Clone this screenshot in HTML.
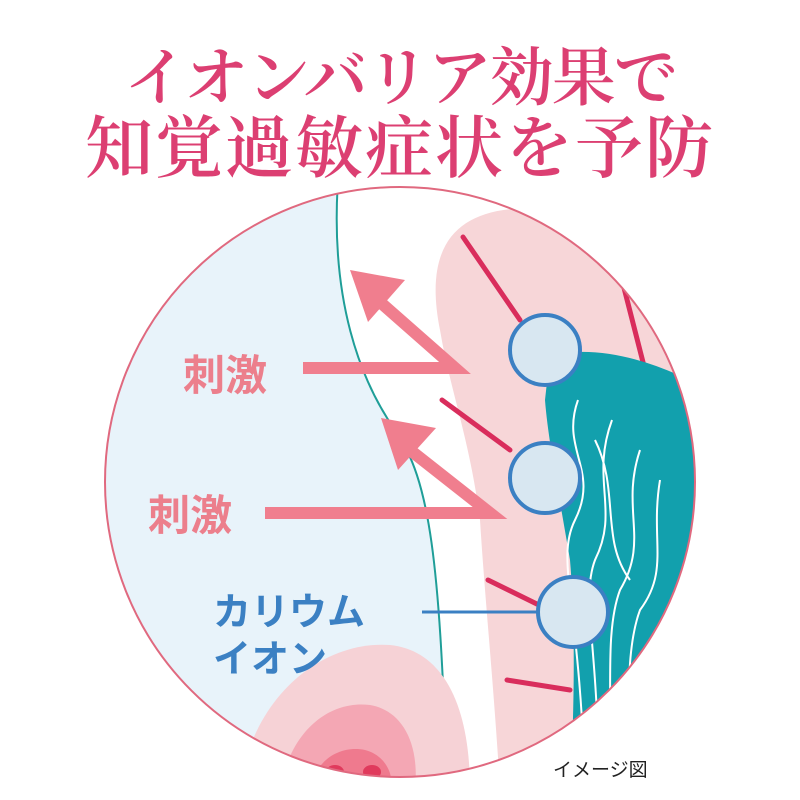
<!DOCTYPE html>
<html><head><meta charset="utf-8"><style>
html,body{margin:0;padding:0;background:#fff;width:800px;height:800px;overflow:hidden}
svg{display:block}
</style></head><body>
<svg width="800" height="800" viewBox="0 0 800 800" xmlns="http://www.w3.org/2000/svg">
<defs><clipPath id="c"><circle cx="400" cy="482" r="295"/></clipPath></defs>
<text x="400" y="100" text-anchor="middle" font-family="'Noto Serif CJK SC','Noto Sans CJK JP',serif" font-size="64" font-weight="600" fill="#dc3f72" letter-spacing="-2">イオンバリア効果で</text>
<text x="400" y="172" text-anchor="middle" font-family="'Noto Serif CJK SC','Noto Sans CJK JP',serif" font-size="68" font-weight="600" fill="#dc3f72" letter-spacing="2">知覚過敏症状を予防</text>
<g clip-path="url(#c)">
<rect x="100" y="180" width="600" height="610" fill="#e8f3fa"/>
<path d="M338,180 C330,300 360,380 395,430 C430,480 440,560 447,790 L800,790 L800,180 Z" fill="#ffffff"/>
<path d="M440,330 C420,230 470,200 560,210 C640,215 700,260 720,300 L720,790 L500,790 C495,700 485,600 480,520 C470,440 450,390 440,330 Z" fill="#f7d6d8"/>
<path d="M338,180 C330,300 360,380 395,430 C430,480 440,560 447,790" fill="none" stroke="#1f9e98" stroke-width="2"/>
<path d="M240,790 C250,700 320,640 390,645 C440,650 470,700 470,790 Z" fill="#f6d2d6"/>
<path d="M280,790 C290,730 330,700 370,705 C400,710 420,740 415,790 Z" fill="#f4a7b4"/>
<path d="M310,790 C315,760 340,745 365,750 C385,755 395,775 390,790 Z" fill="#ef7a8e"/>
<ellipse cx="335" cy="772" rx="9" ry="7" fill="#e03a5c"/>
<ellipse cx="372" cy="772" rx="9" ry="7" fill="#e03a5c"/>
<g stroke="#d92d5c" stroke-width="5" stroke-linecap="round">
<line x1="463" y1="237" x2="520" y2="320"/>
<line x1="622" y1="280" x2="645" y2="370"/>
<line x1="442" y1="400" x2="510" y2="450"/>
<line x1="488" y1="580" x2="545" y2="608"/>
<line x1="507" y1="680" x2="570" y2="690"/>
<line x1="640" y1="620" x2="660" y2="660"/>
</g>
<path d="M550,355 C600,345 650,360 700,385 L700,600 C680,640 660,700 640,790 L570,790 C575,700 575,620 570,560 C560,500 548,440 545,400 Z" fill="#12a0ad"/>
<g fill="none" stroke="#ffffff" stroke-width="2">
<path d="M578,400 C560,450 600,470 575,520 C555,560 580,600 585,790"/>
<path d="M612,420 C590,480 620,510 595,560 C580,600 600,650 598,790"/>
<path d="M640,450 C620,510 650,540 620,590 C605,630 612,690 610,790"/>
<path d="M660,480 C650,540 670,570 640,610 C625,650 630,710 625,790"/>
<path d="M595,440 C620,490 600,540 630,580"/>
</g>
<g fill="none" stroke="#f07e8e" stroke-width="12" stroke-linejoin="miter">
<polyline points="303,368 455,368 380,302"/>
<polyline points="265,513 490,513 410,450"/>
</g>
<polygon points="350,270 405,280 368,322" fill="#f07e8e"/>
<polygon points="381,418 436,428 398,470" fill="#f07e8e"/>
<line x1="422" y1="612" x2="540" y2="612" stroke="#3b80c3" stroke-width="3"/>
<g fill="#d8e7f1" stroke="#3b80c3" stroke-width="4">
<circle cx="545" cy="350" r="35"/>
<circle cx="545" cy="478" r="35"/>
<circle cx="573" cy="612" r="35"/>
</g>
</g>
<circle cx="400" cy="482" r="295" fill="none" stroke="#e0697f" stroke-width="2"/>
<g font-family="'Liberation Sans','Noto Sans CJK JP',sans-serif" font-weight="bold">
<text x="183" y="390" font-size="42" fill="#ec7f8c">刺激</text>
<text x="148" y="530" font-size="42" fill="#ec7f8c">刺激</text>
<text x="213" y="625" font-size="38" fill="#3b80c3">カリウム</text>
<text x="213" y="672" font-size="38" fill="#3b80c3">イオン</text>
</g>
<text x="553" y="776" font-family="'Liberation Sans','Noto Sans CJK JP',sans-serif" font-size="19" fill="#222">イメージ図</text>
</svg>
</body></html>
